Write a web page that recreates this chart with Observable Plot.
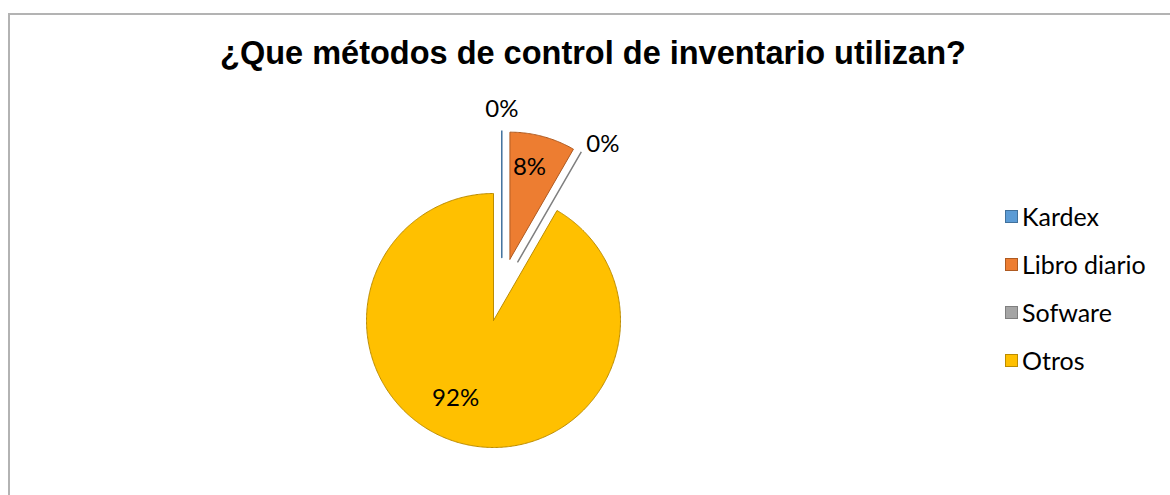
<!DOCTYPE html>
<html>
<head>
<meta charset="utf-8">
<script src="https://cdn.jsdelivr.net/npm/d3@7"></script>
<script src="https://cdn.jsdelivr.net/npm/@observablehq/plot@0.6"></script>
<style>
  html, body { margin: 0; padding: 0; background: #fff; }
  #wrap { position: relative; width: 1170px; height: 495px; overflow: hidden; }
  #frame { position: absolute; left: 8px; top: 13px; width: 1300px; height: 700px;
           border-left: 2px solid #b3b3b3; border-top: 2px solid #b3b3b3; }
  #chart { position: absolute; left: 0; top: 0; }
  #title { position: absolute; left: 0; width: 1186px; top: 33px; text-align: center;
           font-family: "Liberation Sans", Arial, sans-serif; font-weight: bold; font-size: 32.5px;
           line-height: 40px; color: #000; white-space: nowrap; }
  #legend { position: absolute; left: 1005px; top: 192px; font-family: Lato, "Open Sans", sans-serif;
            font-size: 25px; color: #000; }
  .item { display: flex; align-items: center; height: 48px; }
  .sw { width: 13px; height: 13px; margin-right: 4px; box-sizing: border-box; }
</style>
</head>
<body>
<div id="wrap">
  <div id="frame"></div>
  <div id="chart"></div>
  <div id="title">¿Que métodos de control de inventario utilizan?</div>
  <div id="legend"></div>
</div>
<script>
// ---- data ----
const categories = ["Kardex", "Libro diario", "Sofware", "Otros"];
const counts = [0, 1, 0, 11];
const percentLabels = ["0%", "8%", "0%", "92%"];

// ---- style ----
const fills = ["#5B9BD5", "#ED7D31", "#A5A5A5", "#FFC000"];
const strokes = ["#41719C", "#AE5A21", "#7F7F7F", "#BC8C00"];
const explode = [0.5, 0.5, 0.5, 0];
// label placement: [radius factor from slice apex, angle in degrees clockwise from top]
const labelPlace = [[1.165, 0], [0.74, 12], [1.14, 36], [0.68, 206]];

const W = 1170, H = 495, R = 127, CX = 493, CY = 320;

const arcs = d3.pie().sort(null).startAngle(0).endAngle(2 * Math.PI)(counts);

// explosion direction: bisector; for zero-width slices, halfway to nearest non-zero exploded neighbour
const mid = arcs.map(a => (a.startAngle + a.endAngle) / 2);
const dirs = arcs.map((a, i) => {
  if (a.endAngle - a.startAngle > 0) return mid[i];
  let best = null;
  for (let d = 1; d < arcs.length; d++) {
    for (const j of [i - d, i + d]) {
      if (best === null && j >= 0 && j < arcs.length && counts[j] > 0 && explode[j] > 0) best = j;
    }
  }
  return best === null ? mid[i] : (a.startAngle + mid[best]) / 2;
});
const apex = arcs.map((a, i) => ({x: explode[i] * Math.sin(dirs[i]), y: explode[i] * Math.cos(dirs[i])}));

const slices = arcs.map((a, i) => {
  const pts = [{x: apex[i].x, y: apex[i].y}];
  const n = Math.max(1, Math.ceil((a.endAngle - a.startAngle) / 0.01));
  for (let k = 0; k <= n; k++) {
    const t = a.startAngle + (a.endAngle - a.startAngle) * k / n;
    pts.push({x: apex[i].x + Math.sin(t), y: apex[i].y + Math.cos(t)});
  }
  pts.push({x: apex[i].x, y: apex[i].y});
  return pts;
});

const labels = categories.map((c, i) => {
  const [k, deg] = labelPlace[i];
  const t = deg * Math.PI / 180;
  const base = counts[i] > 0 && explode[i] === 0 ? {x: 0, y: 0} : apex[i];
  return {name: c, text: percentLabels[i], x: base.x + k * Math.sin(t), y: base.y + k * Math.cos(t)};
});

const order = [3, 1, 0, 2];
const chart = Plot.plot({
  width: W, height: H,
  margin: 0,
  x: {domain: [-CX / R, (W - CX) / R], axis: null},
  y: {domain: [-(H - CY) / R, CY / R], axis: null},
  marks: [
    ...order.map(i => Plot.line(slices[i], {
      x: "x", y: "y", fill: fills[i], stroke: strokes[i],
      strokeWidth: counts[i] > 0 ? 1 : 1.5, curve: "linear", strokeLinejoin: "miter"
    })),
    Plot.text(labels, {x: "x", y: "y", text: "text", fontSize: 24,
      fontFamily: "Lato, 'Open Sans', sans-serif", fill: "#000"})
  ],
  style: {background: "transparent", overflow: "visible"}
});
document.getElementById("chart").appendChild(chart);

const legend = document.getElementById("legend");
categories.forEach((c, i) => {
  const it = document.createElement("div");
  it.className = "item";
  const sw = document.createElement("div");
  sw.className = "sw";
  sw.style.background = fills[i];
  sw.style.border = "1px solid " + strokes[i];
  const tx = document.createElement("span");
  tx.textContent = c;
  it.appendChild(sw); it.appendChild(tx);
  legend.appendChild(it);
});
</script>
</body>
</html>
